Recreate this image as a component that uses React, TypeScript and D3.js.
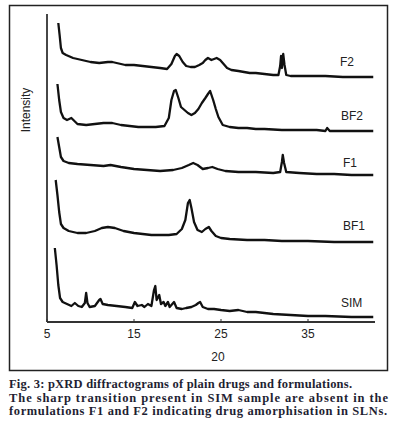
import React from 'react';
import * as d3 from 'd3';

type Pt = [number, number];

const xTicks = [5, 15, 25, 35];
const xLabel = '20';
const yLabel = 'Intensity';

const F2: Pt[] = [
  [6.3, 298], [6.45, 286], [6.6, 273], [6.8, 268], [7.2, 266], [8, 263], [9, 261], [10, 259],
  [11, 258], [12, 259], [12.5, 259], [13, 258], [14, 256], [15, 256], [16, 255], [17, 254],
  [18, 253], [18.8, 252], [19.3, 257], [19.7, 265], [19.9, 267], [20.2, 265], [20.6, 259],
  [21, 255], [21.5, 254], [22, 254], [22.5, 256], [22.9, 258], [23.2, 261], [23.5, 263],
  [23.9, 261], [24.2, 262], [24.5, 263], [24.9, 261], [25.3, 257], [25.7, 253], [26.2, 251],
  [27, 250], [28.3, 248], [29, 248], [30, 247], [31, 246], [31.6, 246], [31.8, 255],
  [31.9, 265], [32.0, 253], [32.15, 267], [32.3, 256], [32.5, 246], [33, 245], [35, 245],
  [37, 245], [39, 244], [40, 244], [42.5, 244],
];

const BF2: Pt[] = [
  [6.2, 237], [6.4, 221], [6.6, 209], [6.9, 203], [7.3, 201], [7.8, 203], [8.5, 197],
  [9.5, 196], [10.5, 197], [11.5, 198], [12.5, 198], [13.5, 196], [14.5, 195], [15.5, 194],
  [16.5, 194], [17.5, 194], [18.5, 195], [19, 203], [19.3, 221], [19.6, 230], [19.8, 231],
  [20.1, 223], [20.4, 214], [20.8, 211], [21.2, 208], [21.6, 206], [22.0, 208], [22.4, 212],
  [22.8, 218], [23.2, 223], [23.5, 227], [23.75, 230], [24.1, 221], [24.4, 212], [24.7, 204],
  [25.2, 196], [26, 194], [27, 193], [28, 193], [29, 192], [30, 192], [32, 191], [34, 191],
  [36, 191], [37.0, 190], [37.2, 193], [37.5, 190], [39, 190], [42.5, 190],
];

const F1: Pt[] = [
  [6.2, 184], [6.4, 174], [6.6, 164], [6.9, 160], [7.5, 158], [8.5, 157], [10, 156],
  [11.5, 155], [12.3, 156], [13.5, 154], [15, 152], [16.5, 151], [18, 150], [19.5, 151],
  [20.5, 153], [21.3, 156], [21.8, 158], [22.3, 156], [22.9, 152], [23.5, 153], [24.0, 154],
  [24.6, 152], [25.5, 150], [27, 149], [29, 149], [31, 148], [31.8, 149], [32.0, 159],
  [32.1, 166], [32.25, 158], [32.5, 149], [34, 148], [36, 147], [38, 147], [40, 146],
  [42.5, 146],
];

const BF1: Pt[] = [
  [6.0, 141], [6.2, 126], [6.4, 109], [6.6, 97], [6.9, 93], [7.5, 90], [8.5, 88], [9.5, 88],
  [10.5, 90], [11.3, 93], [12, 94], [12.8, 93], [13.8, 90], [15, 88], [16, 87], [17, 86],
  [18, 86], [19, 86], [19.9, 87], [20.5, 92], [20.9, 101], [21.2, 118], [21.4, 121],
  [21.6, 113], [21.9, 99], [22.3, 91], [22.8, 89], [23.2, 92], [23.6, 94], [23.9, 90],
  [24.4, 85], [25, 83], [26, 82], [28, 81], [30, 81], [32, 80], [35, 80], [38, 79], [42.5, 79],
];

const SIM: Pt[] = [
  [5.9, 73], [6.1, 56], [6.3, 36], [6.5, 23], [6.8, 19], [7.3, 17], [7.8, 15], [8.2, 18],
  [8.6, 15], [9.0, 14], [9.35, 18], [9.5, 28], [9.65, 18], [9.9, 14], [10.5, 15], [11.0, 21],
  [11.15, 22], [11.4, 17], [12, 16], [13, 15], [14, 14], [14.8, 13], [15.1, 19], [15.4, 15],
  [15.9, 16], [16.2, 14], [16.6, 17], [17.0, 15], [17.3, 31], [17.45, 35], [17.6, 21],
  [17.9, 26], [18.1, 17], [18.4, 19], [18.6, 15], [18.9, 19], [19.1, 14], [19.6, 19],
  [19.9, 13], [20.5, 12], [21, 13], [21.6, 14], [22.1, 16], [22.4, 18], [22.6, 19], [22.9, 14],
  [23.5, 12], [24.2, 12], [25, 11], [26, 10], [27, 11], [28, 9], [29, 9], [30, 8], [31, 7],
  [33, 6], [35, 5], [37, 5], [40, 4], [42.5, 4],
];

const seriesNames = ['F2', 'BF2', 'F1', 'BF1', 'SIM'];
const seriesData = [F2, BF2, F1, BF1, SIM];

const captionLines = [
  'Fig. 3: pXRD diffractograms of plain drugs and formulations.',
  'The sharp transition present in SIM sample are absent in the',
  'formulations F1 and F2 indicating drug amorphisation in SLNs.',
];

export default function App() {
  const W = 397;
  const H = 430;
  const x = d3.scaleLinear().domain([5, 42.7]).range([47, 375]);
  const y = d3.scaleLinear().domain([0, 306]).range([321, 15]);
  const line = d3
    .line<Pt>()
    .x((d) => x(d[0]))
    .y((d) => y(d[1]))
    .curve(d3.curveLinear);

  const labelPos = [
    { x: 340, y: 62 },
    { x: 341, y: 116 },
    { x: 343, y: 163 },
    { x: 343, y: 226 },
    { x: 341, y: 303 },
  ];
  const captionWidths = [343, 379, 378];
  const axisY = 322;

  return (
    <svg
      width={W}
      height={H}
      style={{ position: 'absolute', left: 0, top: 0, background: '#fff' }}
    >
      <rect x={9.5} y={5.5} width={378} height={365} fill="none" stroke="#222" strokeWidth={1.5} />
      <line x1={47} y1={14} x2={47} y2={axisY} stroke="#333" strokeWidth={1.8} />
      <line x1={47} y1={axisY} x2={x(42.7)} y2={axisY} stroke="#333" strokeWidth={1.8} />
      {xTicks.map((t) => (
        <g key={t}>
          <line x1={x(t)} x2={x(t)} y1={axisY} y2={axisY - 3} stroke="#333" strokeWidth={1} />
          <text
            x={x(t)}
            y={338}
            textAnchor="middle"
            fontFamily="Liberation Sans, Arial, sans-serif"
            fontSize={12}
            fill="#222"
          >
            {t}
          </text>
        </g>
      ))}
      <text
        x={218}
        y={361}
        textAnchor="middle"
        fontFamily="Liberation Sans, Arial, sans-serif"
        fontSize={12}
        fill="#222"
      >
        {xLabel}
      </text>
      <text
        transform={`translate(30,110) rotate(-90)`}
        textAnchor="middle"
        fontFamily="Liberation Sans, Arial, sans-serif"
        fontSize={12}
        fill="#222"
      >
        {yLabel}
      </text>
      {seriesData.map((d, i) => (
        <path
          key={seriesNames[i]}
          d={line(d) || ''}
          fill="none"
          stroke="#111"
          strokeWidth={2.3}
          strokeLinejoin="round"
        />
      ))}
      {seriesNames.map((n, i) => (
        <text
          key={n}
          x={labelPos[i].x}
          y={labelPos[i].y + 4}
          fontFamily="Liberation Sans, Arial, sans-serif"
          fontSize={12}
          fill="#222"
        >
          {n}
        </text>
      ))}
      {captionLines.map((c, i) => (
        <text
          key={i}
          x={9}
          y={388 + i * 13.5}
          fontFamily="Liberation Serif, DejaVu Serif, serif"
          fontWeight="bold"
          fontSize={12.5}
          fill="#1f1f33"
          textLength={captionWidths[i]}
          lengthAdjust="spacing"
        >
          {c}
        </text>
      ))}
    </svg>
  );
}
